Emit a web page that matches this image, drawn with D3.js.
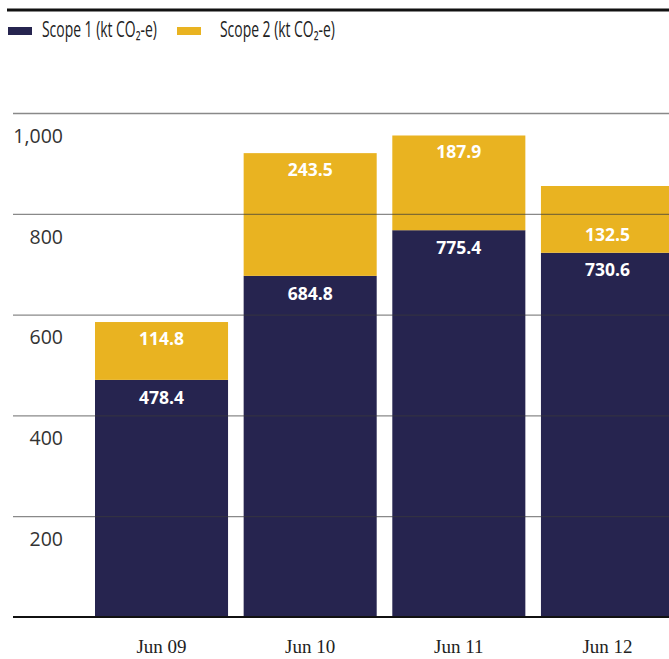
<!DOCTYPE html>
<html><head><meta charset="utf-8">
<script src="https://cdn.jsdelivr.net/npm/d3@7"></script>
<style>
html,body{margin:0;padding:0;background:#fff;}
</style></head>
<body>
<svg id="chart" width="669" height="659"></svg>
<script>
const categories = ["Jun 09", "Jun 10", "Jun 11", "Jun 12"];
const scope1 = [478.4, 684.8, 775.4, 730.6];
const scope2 = [114.8, 243.5, 187.9, 132.5];
const seriesNames = ["Scope 1 (kt CO₂-e)", "Scope 2 (kt CO₂-e)"];
const yTicks = [200, 400, 600, 800, 1000];
const scope2LabelAnchor = ["top", "top", "top", "bottom"];

const navy = "#26244f", gold = "#e9b321";
const svg = d3.select("#chart");
const W = 669;

const x = d3.scaleBand().domain(categories).range([95, 674]).paddingInner(0.105).paddingOuter(0);
const y = d3.scaleLinear().domain([0, 1000]).range([617, 113]);
const yBar = d3.scaleLinear().domain([0, 1000]).range([621, 117]);

svg.append("defs").append("clipPath").attr("id","clip")
  .append("rect").attr("x",0).attr("y",0).attr("width",W).attr("height",617);

const data = categories.map((c,i)=>({c, s1:scope1[i], s2:scope2[i], anchor:scope2LabelAnchor[i]}));

const bars = svg.append("g").attr("clip-path","url(#clip)");
bars.selectAll(".s1").data(data).join("rect")
  .attr("x", d=>x(d.c)).attr("width", x.bandwidth())
  .attr("y", d=>yBar(d.s1)).attr("height", d=>yBar(0)-yBar(d.s1))
  .attr("fill", navy);
bars.selectAll(".s2").data(data).join("rect")
  .attr("x", d=>x(d.c)).attr("width", x.bandwidth())
  .attr("y", d=>yBar(d.s1+d.s2)).attr("height", d=>yBar(d.s1)-yBar(d.s1+d.s2))
  .attr("fill", gold);

// gridlines + y axis
const yAxis = d3.axisLeft(y).tickValues(yTicks).tickFormat(d3.format(",")).tickSize(-(W-13)).tickPadding(0);
const ga = svg.append("g").attr("transform","translate(13,0)").call(yAxis);
ga.select(".domain").remove();
ga.selectAll(".tick line").attr("stroke","#3a3a3a").attr("stroke-opacity",0.6).attr("stroke-width",1.3);
ga.selectAll(".tick text").attr("x",50).attr("dy",24).attr("dominant-baseline","middle").attr("y",0)
  .attr("font-family","'Open Sans', sans-serif").attr("font-size",19.5).attr("font-weight",400)
  .attr("fill","#333").attr("text-anchor","end");

// value labels
const lf = "'Open Sans', sans-serif";
svg.selectAll(".l1").data(data).join("text")
  .attr("x", d=>x(d.c)+x.bandwidth()/2).attr("y", d=>yBar(d.s1)+19)
  .attr("dominant-baseline","middle").attr("text-anchor","middle")
  .attr("font-family",lf).attr("font-weight",700).attr("font-size",17.5).attr("fill","#fff")
  .text(d=>d3.format(".1f")(d.s1));
svg.selectAll(".l2").data(data).join("text")
  .attr("x", d=>x(d.c)+x.bandwidth()/2)
  .attr("y", d=> d.anchor==="top" ? yBar(d.s1+d.s2)+18 : yBar(d.s1)-16)
  .attr("dominant-baseline","middle").attr("text-anchor","middle")
  .attr("font-family",lf).attr("font-weight",700).attr("font-size",17.5).attr("fill","#fff")
  .text(d=>d3.format(".1f")(d.s2));

// baseline
svg.append("line").attr("x1",13).attr("x2",W).attr("y1",y(0)).attr("y2",y(0))
  .attr("stroke","#111").attr("stroke-width",2.2);

// x axis labels
const xAxis = d3.axisBottom(x).tickSize(0).tickPadding(0);
const gx = svg.append("g").attr("transform","translate(0,617)").call(xAxis);
gx.select(".domain").remove();
gx.selectAll(".tick text").attr("y",32).attr("dy",0).attr("dominant-baseline","middle")
  .attr("font-family","'Liberation Serif', serif").attr("font-size",19).attr("fill","#222");

// top rule
svg.append("line").attr("x1",7).attr("x2",W).attr("y1",10).attr("y2",10)
  .attr("stroke","#111").attr("stroke-width",3);

// legend
const legend = [{name:seriesNames[0], color:navy, sx:8, tx:42},{name:seriesNames[1], color:gold, sx:177, tx:220}];
const lg = svg.append("g");
legend.forEach(l=>{
  lg.append("rect").attr("x",l.sx).attr("y",27).attr("width",24).attr("height",8).attr("fill",l.color);
  const g = lg.append("g").attr("transform",`translate(${l.tx},37)`);
  const t = g.append("text").attr("x",0).attr("y",0)
    .attr("font-family","'Open Sans','DejaVu Sans', sans-serif")
    .attr("font-size",21).attr("fill","#222")
    .text(l.name);
  const w = t.node().getComputedTextLength();
  t.attr("transform",`scale(${115/w},1)`);
});
</script>
</body></html>
